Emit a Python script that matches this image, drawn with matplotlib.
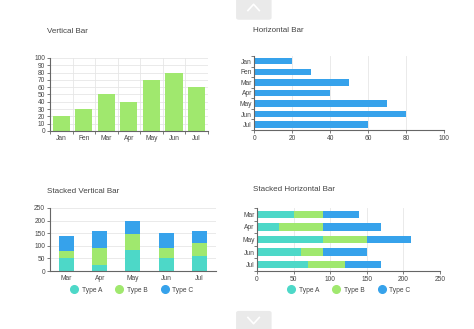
import matplotlib
matplotlib.use("Agg")
import matplotlib.pyplot as plt
from matplotlib.patches import FancyBboxPatch
from matplotlib.lines import Line2D
import numpy as np

plt.rcParams['font.family'] = ['Liberation Sans', 'DejaVu Sans']

# data
months = ['Jan', 'Fen', 'Mar', 'Apr', 'May', 'Jun', 'Jul']
values = [20, 30, 50, 40, 70, 80, 60]

stack_months = ['Mar', 'Apr', 'May', 'Jun', 'Jul']
v_type_a = [50, 25, 85, 50, 60]
v_type_b = [30, 65, 60, 40, 50]
v_type_c = [60, 70, 55, 60, 50]

h_type_a = [50, 30, 90, 60, 70]
h_type_b = [40, 60, 60, 30, 50]
h_type_c = [50, 80, 60, 60, 50]

green = '#a0e86e'
blue = '#36a2eb'
teal = '#4dd8c8'
grid_c = '#e6e6e6'
axis_c = '#666666'
txt_c = '#444444'
fs = 4.8
tfs = 5.8

fig = plt.figure(figsize=(4.74, 3.29), dpi=100)
fig.patch.set_facecolor('white')


def style(ax):
    for s in ['top', 'right']:
        ax.spines[s].set_visible(False)
    for s in ['left', 'bottom']:
        ax.spines[s].set_color(axis_c)
        ax.spines[s].set_linewidth(0.8)
    ax.tick_params(labelsize=fs, colors=axis_c, labelcolor=txt_c,
                   length=2, width=0.6, pad=1.5)
    ax.set_axisbelow(True)


# vertical bar
ax1 = fig.add_axes([0.1055, 0.602, 0.333, 0.222])
x = np.arange(len(months))
ax1.bar(x, values, width=0.76, color=green)
ax1.set_xlim(-0.5, len(months) - 0.5)
ax1.set_ylim(0, 100)
ax1.set_yticks(range(0, 101, 10))
ax1.set_xticks(x)
ax1.set_xticklabels(months)
ax1.set_xticks(np.arange(-0.5, len(months)), minor=True)
ax1.grid(axis='y', color=grid_c, linewidth=0.6)
ax1.grid(axis='x', which='minor', color=grid_c, linewidth=0.6)
style(ax1)
ax1.tick_params(axis='x', which='major', length=0, pad=3)
ax1.tick_params(axis='x', which='minor', length=2, width=0.6, color=axis_c)
fig.text(0.099, 0.903, 'Vertical Bar', fontsize=tfs, color=txt_c, va='center')

# horizontal bar
ax2 = fig.add_axes([0.536, 0.605, 0.401, 0.225])
y = np.arange(len(months))
ax2.barh(y, values, height=0.62, color=blue)
ax2.set_ylim(len(months) - 0.5, -0.5)
ax2.set_xlim(0, 100)
ax2.set_xticks(range(0, 101, 20))
ax2.set_yticks(y)
ax2.set_yticklabels(months)
ax2.set_yticks(np.arange(-0.5, len(months)), minor=True)
ax2.grid(axis='x', color=grid_c, linewidth=0.6)
style(ax2)
ax2.tick_params(axis='y', which='major', length=0)
ax2.tick_params(axis='y', which='minor', length=2, width=0.6, color=axis_c)
fig.text(0.534, 0.906, 'Horizontal Bar', fontsize=tfs, color=txt_c, va='center')

# stacked vertical bar
ax3 = fig.add_axes([0.1055, 0.176, 0.350, 0.192])
xs = np.arange(len(stack_months))
bot_b = np.array(v_type_a)
bot_c = bot_b + np.array(v_type_b)
ax3.bar(xs, v_type_a, width=0.45, color=teal)
ax3.bar(xs, v_type_b, width=0.45, bottom=bot_b, color=green)
ax3.bar(xs, v_type_c, width=0.45, bottom=bot_c, color=blue)
ax3.set_xlim(-0.5, len(stack_months) - 0.5)
ax3.set_ylim(0, 250)
ax3.set_yticks(range(0, 251, 50))
ax3.set_xticks(xs)
ax3.set_xticklabels(stack_months)
ax3.grid(axis='y', color=grid_c, linewidth=0.6)
style(ax3)
ax3.tick_params(axis='x', length=0, pad=3)
fig.text(0.099, 0.417, 'Stacked Vertical Bar', fontsize=tfs, color=txt_c, va='center')

# stacked horizontal bar
ax4 = fig.add_axes([0.542, 0.176, 0.386, 0.192])
ys = np.arange(len(stack_months))
left_b = np.array(h_type_a)
left_c = left_b + np.array(h_type_b)
ax4.barh(ys, h_type_a, height=0.58, color=teal)
ax4.barh(ys, h_type_b, height=0.58, left=left_b, color=green)
ax4.barh(ys, h_type_c, height=0.58, left=left_c, color=blue)
ax4.set_ylim(len(stack_months) - 0.5, -0.5)
ax4.set_xlim(0, 250)
ax4.set_xticks(range(0, 251, 50))
ax4.set_yticks(ys)
ax4.set_yticklabels(stack_months)
ax4.set_yticks(np.arange(-0.5, len(stack_months)), minor=True)
ax4.grid(axis='x', color=grid_c, linewidth=0.6)
style(ax4)
ax4.tick_params(axis='y', which='major', length=0)
ax4.tick_params(axis='y', which='minor', length=2, width=0.6, color=axis_c)
fig.text(0.534, 0.423, 'Stacked Horizontal Bar', fontsize=tfs, color=txt_c, va='center')

# legends
handles = [Line2D([], [], marker='o', linestyle='', markersize=5.5, color=c)
           for c in [teal, green, blue]]
labels = ['Type A', 'Type B', 'Type C']
for cx in [0.275, 0.733]:
    fig.legend(handles, labels, loc='center', bbox_to_anchor=(cx, 0.118),
               ncol=3, frameon=False, fontsize=fs, handletextpad=0.1,
               columnspacing=1.6, labelcolor=txt_c)

# navigation buttons
for by in [-0.01, 0.94]:
    fig.patches.append(FancyBboxPatch((0.498, by), 0.075, 0.065,
                                      boxstyle='round,pad=0,rounding_size=0.006',
                                      transform=fig.transFigure,
                                      facecolor='#eaeaea', edgecolor='none'))
fig.lines.append(Line2D([0.523, 0.535, 0.547], [0.968, 0.987, 0.968],
                        transform=fig.transFigure, color='white', linewidth=1.2))
fig.lines.append(Line2D([0.523, 0.535, 0.547], [0.035, 0.016, 0.035],
                        transform=fig.transFigure, color='white', linewidth=1.2))

fig.savefig('out.png', dpi=100)
